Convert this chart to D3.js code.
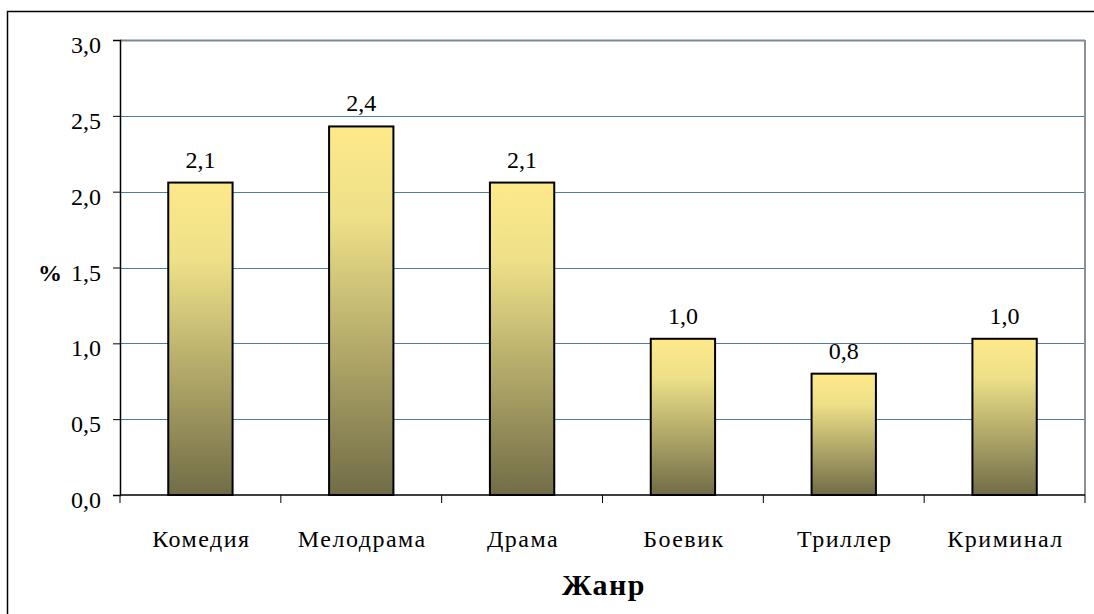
<!DOCTYPE html>
<html><head><meta charset="utf-8"><script src="https://cdn.jsdelivr.net/npm/d3@7"></script></head>
<body style="margin:0">
<script>
// genres and their share, %
var genres = ["Комедия", "Мелодрама", "Драма", "Боевик", "Триллер", "Криминал"];
var shares = [2.06, 2.43, 2.06, 1.03, 0.80, 1.03];
var yTicks = [0, 0.5, 1.0, 1.5, 2.0, 2.5, 3.0];

var FONT = "Liberation Serif";
var width = 1094, height = 614;
var margin = { left: 120, top: 40, right: 9, bottom: 119 };
var plotW = width - margin.left - margin.right,
    plotH = height - margin.top - margin.bottom;

var fmt = function(v) { return d3.format(".1f")(v).replace(".", ","); };

var svg = d3.select("body").append("svg").attr("width", width).attr("height", height);

// outer frame (runs off the right and bottom edge)
svg.append("rect")
  .attr("x", 7.5).attr("y", 11.5)
  .attr("width", width + 20).attr("height", height + 20)
  .attr("fill", "none").attr("stroke", "#000").attr("stroke-width", 1.5);

var defs = svg.append("defs");
var grad = defs.append("linearGradient")
  .attr("id", "barGrad")
  .attr("x1", "0%").attr("y1", "0%").attr("x2", "0%").attr("y2", "100%");
grad.append("stop").attr("offset", "0%").attr("stop-color", "#fee98a");
grad.append("stop").attr("offset", "25%").attr("stop-color", "#ede088");
grad.append("stop").attr("offset", "100%").attr("stop-color", "#716c47");

var g = svg.append("g").attr("transform", "translate(" + margin.left + "," + margin.top + ")");

var xScale = d3.scaleBand().domain(genres).range([0, plotW]).paddingInner(0.6).paddingOuter(0.3);
var xBound = d3.scaleLinear().domain([0, genres.length]).range([0, plotW]);
var yScale = d3.scaleLinear().domain([0, 3]).range([plotH, 0]);

// gridlines
g.selectAll(".grid").data(yTicks.slice(1)).enter().append("line")
  .attr("x1", 0).attr("x2", plotW)
  .attr("y1", function(d) { return Math.round(yScale(d)) + 0.5; })
  .attr("y2", function(d) { return Math.round(yScale(d)) + 0.5; })
  .attr("stroke", function(d) { return d === 3 ? "#7f8790" : "#4f7ca3"; })
  .attr("stroke-width", function(d) { return d === 3 ? 2 : 1; });

// right border of plot area
g.append("line")
  .attr("x1", plotW).attr("x2", plotW)
  .attr("y1", 0).attr("y2", plotH)
  .attr("stroke", "#8a9096").attr("stroke-width", 2);

// bars
g.selectAll(".bar").data(genres).enter().append("rect")
  .attr("x", function(d) { return xScale(d); })
  .attr("y", function(d, i) { return yScale(shares[i]); })
  .attr("width", xScale.bandwidth())
  .attr("height", function(d, i) { return plotH - yScale(shares[i]); })
  .attr("fill", "url(#barGrad)")
  .attr("stroke", "#000").attr("stroke-width", 2);

// value labels
g.selectAll(".val").data(genres).enter().append("text")
  .attr("x", function(d) { return xScale(d) + xScale.bandwidth() / 2; })
  .attr("y", function(d, i) { return yScale(shares[i]) - 15; })
  .attr("text-anchor", "middle")
  .attr("font-family", FONT)
  .attr("font-size", 24)
  .text(function(d, i) { return fmt(shares[i]); });

// y axis: domain and ticks from d3, labels drawn separately
var yAxis = g.append("g")
  .call(d3.axisLeft(yScale).tickValues(yTicks).tickFormat("").tickSize(7));
yAxis.select(".domain").attr("stroke", "#000").attr("stroke-width", 1.5);
g.selectAll(".ylab").data(yTicks).enter().append("text")
  .attr("x", -19)
  .attr("y", function(d) { return yScale(d) + 13; })
  .attr("text-anchor", "end")
  .attr("font-family", FONT)
  .attr("font-size", 24)
  .text(function(d) { return fmt(d); });

// x axis baseline and boundary ticks
var xAxis = g.append("g").attr("transform", "translate(0," + plotH + ")");
xAxis.append("line").attr("x1", 0).attr("x2", plotW).attr("stroke", "#000").attr("stroke-width", 1.5);
xAxis.selectAll(".xt").data(d3.range(genres.length + 1)).enter().append("line")
  .attr("x1", function(d) { return xBound(d); })
  .attr("x2", function(d) { return xBound(d); })
  .attr("y1", 0).attr("y2", 8)
  .attr("stroke", "#000");
xAxis.selectAll(".xl").data(genres).enter().append("text")
  .attr("x", function(d) { return xScale(d) + xScale.bandwidth() / 2 + 1; })
  .attr("y", 52)
  .attr("text-anchor", "middle")
  .attr("font-family", FONT)
  .attr("font-size", 24)
  .attr("letter-spacing", 1.5)
  .text(function(d) { return d; });

// axis titles
svg.append("text")
  .attr("x", 50).attr("y", 281)
  .attr("text-anchor", "middle")
  .attr("font-family", FONT)
  .attr("font-size", 24).attr("font-weight", "bold")
  .text("%");
svg.append("text")
  .attr("x", 604).attr("y", 595)
  .attr("text-anchor", "middle")
  .attr("font-family", FONT)
  .attr("font-size", 30).attr("font-weight", "bold")
  .attr("letter-spacing", 1.5)
  .text("Жанр");
</script></body></html>
